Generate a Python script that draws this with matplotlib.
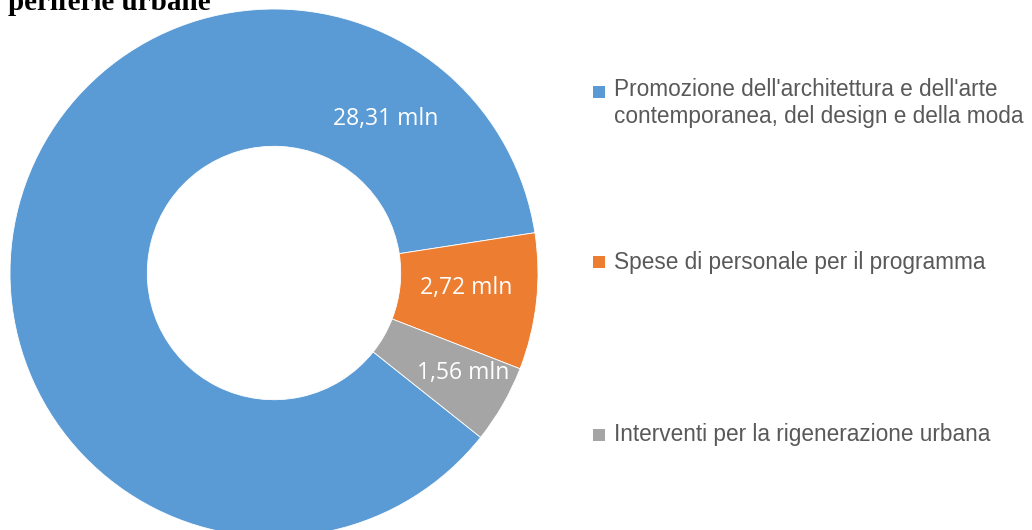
import numpy as np
import matplotlib.pyplot as plt
from matplotlib.patches import Rectangle

# --- DATI --- #
categorie = ["Promozione dell'architettura e dell'arte\ncontemporanea, del design e della moda",
             "Spese di personale per il programma",
             "Interventi per la rigenerazione urbana"]
valori = [28.31, 2.72, 1.56]
etichette = ["28,31 mln", "2,72 mln", "1,56 mln"]
colori = ['#5b9bd5', '#ed7d31', '#a5a5a5']
titolo = "periferie urbane"

W, H = 1032, 530
fig = plt.figure(figsize=(W/100, H/100), dpi=100)

# asse del grafico in pixel: centro (274, 273), raggio 264
cx, cy, R = 274, 273, 264
ax = fig.add_axes([(cx-R)/W, (H-cy-R)/H, 2*R/W, 2*R/H])

wedges, _ = ax.pie(valori, colors=colori, startangle=321.5, counterclock=False,
                   radius=1, wedgeprops=dict(width=0.52, edgecolor='white', linewidth=0.6))
ax.set_xlim(-1, 1)
ax.set_ylim(-1, 1)
ax.axis('off')

# etichette dati (posizione come in Excel: angolo, raggio)
pos_etichette = [(54, 0.72), (-4.5, 0.73), (-28, 0.81)]
for i, w in enumerate(wedges):
    ang, r = pos_etichette[i]
    x = r * np.cos(np.radians(ang))
    y = r * np.sin(np.radians(ang))
    ax.text(x, y, etichette[i], color='white', fontsize=16.5, family='Open Sans',
            ha='center', va='center')

# legenda manuale
ys = [92, 262, 435]
for i, y in enumerate(ys):
    fig.patches.append(Rectangle((593/W, (H-y-6)/H), 12/W, 12/H, transform=fig.transFigure,
                                 facecolor=colori[i], edgecolor='none'))
    fig.text(614/W, (H-y+14)/H if i == 0 else (H-y)/H, categorie[i], color='#595959',
             fontsize=16.3, family='Liberation Sans', va='top' if i == 0 else 'center',
             linespacing=1.2)

# titolo tagliato
fig.text(8/W, (H-10)/H, titolo, fontsize=21, weight='bold', family='Liberation Serif',
         va='baseline', ha='left')

fig.savefig('out.png', dpi=100)
